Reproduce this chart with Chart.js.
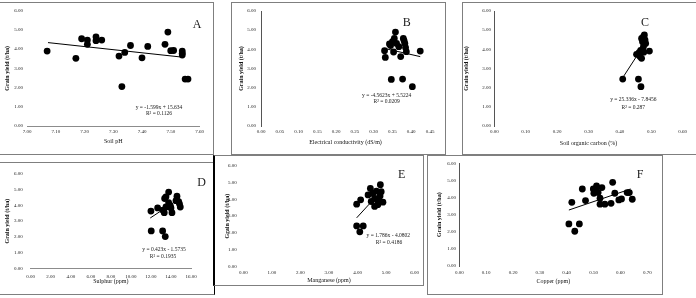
<!DOCTYPE html>
<html><head><meta charset="utf-8">
<script src="https://cdn.jsdelivr.net/npm/chart.js@4.4.1/dist/chart.umd.min.js"></script>
<style>
html,body{margin:0;padding:0;background:#fff;width:696px;height:298px;overflow:hidden;position:relative}
.box{position:absolute;border:1px solid #7f7f7f;box-sizing:border-box}
canvas{position:absolute}
</style></head><body>
<div class="box" style="left:-1px;top:2px;width:215px;height:153px"></div>
<div class="box" style="left:231px;top:2px;width:215px;height:153px"></div>
<div class="box" style="left:462px;top:2px;width:240px;height:153px"></div>
<div class="box" style="left:-1px;top:162px;width:216px;height:133px;border-right-color:#000"></div>
<div class="box" style="left:213px;top:155px;width:211px;height:131px;border-left:2px solid #000"></div>
<div class="box" style="left:427px;top:155px;width:236px;height:140px"></div>
<canvas id="cA"></canvas><canvas id="cB"></canvas><canvas id="cC"></canvas>
<canvas id="cD"></canvas><canvas id="cE"></canvas><canvas id="cF"></canvas>
<script>
// ---- data ----
const yTicks = [0, 1, 2, 3, 4, 5, 6];
const yTitle = "Grain yield (t/ha)";

const aPH    = [7.07,7.17,7.19,7.21,7.21,7.24,7.24,7.26,7.32,7.33,7.34,7.36,7.40,7.42,7.49,7.48,7.50,7.51,7.54,7.54,7.54,7.55,7.56];
const aYield = [3.90,3.52,4.54,4.47,4.25,4.64,4.44,4.47,3.64,2.05,3.83,4.19,3.55,4.14,4.89,4.25,3.92,3.93,3.90,3.78,3.69,2.44,2.44];
const aTrendX = [7.073, 7.542];
const aTrendY = [4.34, 3.58];
const aXTicks = [7.0, 7.1, 7.2, 7.3, 7.4, 7.5, 7.6];

const bEC    = [0.329,0.331,0.342,0.347,0.353,0.355,0.358,0.361,0.367,0.372,0.377,0.379,0.383,0.385,0.387,0.381,0.403,0.424,0.345,0.350];
const bYield = [3.93,3.58,4.28,2.43,3.86,4.57,4.90,4.31,4.14,3.62,2.45,4.57,4.31,4.09,3.88,4.45,2.05,3.91,4.20,4.40];
const bTrendX = [0.330, 0.424];
const bTrendY = [4.04, 3.62];
const bXTicks = [0, 0.05, 0.10, 0.15, 0.20, 0.25, 0.30, 0.35, 0.40, 0.45];

const cSOC   = [0.409,0.459,0.467,0.453,0.461,0.464,0.469,0.472,0.475,0.472,0.475,0.469,0.480,0.482,0.478,0.494,0.466,0.476];
const cYield = [2.45,2.45,2.05,3.74,3.83,3.62,3.53,3.97,4.14,4.40,4.66,4.57,4.49,4.31,4.75,3.91,3.95,3.85];
const cTrendX = [0.409, 0.485];
const cTrendY = [2.52, 4.44];
const cXTicks = [0, 0.1, 0.2, 0.3, 0.4, 0.5, 0.6];

const dS     = [12.00,12.67,12.03,13.17,13.43,13.33,13.50,13.37,13.50,13.77,13.77,13.93,14.10,14.00,14.60,14.77,14.85,14.93,13.20,14.50];
const dYield = [3.64,3.84,2.38,2.38,2.02,3.54,3.90,4.44,4.55,4.85,4.18,3.98,3.54,3.84,4.59,4.24,4.10,3.90,3.70,4.30];
const dTrendX = [11.93, 14.9];
const dTrendY = [3.20, 4.45];
const dXTicks = [0, 2, 4, 6, 8, 10, 12, 14, 16];

const eMn    = [3.97,4.11,3.97,4.20,4.08,4.37,4.45,4.54,4.60,4.66,4.69,4.71,4.60,4.80,4.79,4.83,4.89,4.48,4.75];
const eYield = [3.71,3.97,2.42,2.42,2.07,4.26,4.64,4.35,4.06,4.49,3.97,3.68,3.58,4.87,4.20,4.45,3.83,3.87,3.90];
const eTrendX = [3.97, 4.89];
const eTrendY = [2.90, 4.60];
const eXTicks = [0, 1, 2, 3, 4, 5, 6];

const fCu    = [0.408,0.447,0.430,0.419,0.458,0.470,0.499,0.501,0.511,0.517,0.524,0.531,0.524,0.542,0.565,0.571,0.579,0.594,0.604,0.625,0.633,0.644,0.509];
const fYield = [2.46,2.46,2.03,3.72,4.50,3.82,4.50,4.25,4.68,4.29,3.96,4.58,3.61,3.61,3.66,4.89,4.25,3.86,3.92,4.29,4.29,3.90,4.44];
const fTrendX = [0.408, 0.638];
const fTrendY = [3.27, 4.50];
const fXTicks = [0, 0.1, 0.2, 0.3, 0.4, 0.5, 0.6, 0.7];

// ---- panels (layout) ----
const panels = [
 {id:'cA', xs:aPH, ys:aYield, tx:aTrendX, ty:aTrendY, xt:aXTicks, xTitle:'Soil pH', letter:'A',
  eq:['y = -1.599x + 15.634','R\u00b2 = 0.1126'],
  canvas:{x:0,y:3,w:212,h:150}, area:{L:27,T:10.7,R:199.5,B:126},
  yTitleX:7.3, xTitleY:141, xPad:3, yPad:4, letterPos:[197,24.5], eqPos:[[159,107.3],[159,113.3]],
  xBorder:true, yBorder:false},
 {id:'cB', xs:bEC, ys:bYield, tx:bTrendX, ty:bTrendY, xt:bXTicks, xTitle:'Electrical conductivity (dS/m)', letter:'B',
  eq:['y = -4.5623x + 5.5224','R\u00b2 = 0.0209'],
  canvas:{x:232,y:3,w:212,h:150}, area:{L:261,T:11,R:430,B:126},
  yTitleX:241.7, xTitleY:142.7, xPad:3, yPad:5, letterPos:[406.7,23.3], eqPos:[[386.7,95.7],[386.7,101.7]],
  xBorder:false, yBorder:true},
 {id:'cC', xs:cSOC, ys:cYield, tx:cTrendX, ty:cTrendY, xt:cXTicks, xTitle:'Soil organic carbon (%)', letter:'C',
  eq:['y = 25.336x - 7.8456','R\u00b2 = 0.287'],
  canvas:{x:463,y:3,w:233,h:150}, area:{L:494.3,T:11,R:682.7,B:126},
  yTitleX:466, xTitleY:143, xPad:3, yPad:3.3, letterPos:[645,23], eqPos:[[633.3,100],[633.3,107.3]],
  xBorder:false, yBorder:true},
 {id:'cD', xs:dS, ys:dYield, tx:dTrendX, ty:dTrendY, xt:dXTicks, xTitle:'Sulphur (ppm)', letter:'D',
  eq:['y = 0.423x - 1.5735','R\u00b2 = 0.1935'],
  canvas:{x:0,y:163,w:213,h:130}, area:{L:30.7,T:169.3,R:191,B:268.3},
  yTitleX:7.3, xTitleY:281.7, xPad:5, yPad:8, letterPos:[201.7,183.3], eqPos:[[164,250],[163,256.7]],
  xBorder:true, yBorder:false},
 {id:'cE', xs:eMn, ys:eYield, tx:eTrendX, ty:eTrendY, xt:eXTicks, xTitle:'Manganese (ppm)', letter:'E',
  eq:['y = 1.786x - 4.0802','R\u00b2 = 0.4186'],
  canvas:{x:215,y:156,w:207,h:128}, area:{L:243.3,T:163.3,R:417.3,B:266.7},
  yTitleX:227.3, xTitleY:280.5, xPad:3, yPad:6.6, letterPos:[401.7,175], eqPos:[[388.3,236],[389,242.3]],
  xBorder:false, yBorder:false},
 {id:'cF', xs:fCu, ys:fYield, tx:fTrendX, ty:fTrendY, xt:fXTicks, xTitle:'Copper (ppm)', letter:'F',
  eq:[],
  canvas:{x:428,y:156,w:233,h:137}, area:{L:459.3,T:163.3,R:647.3,B:266},
  yTitleX:439.3, xTitleY:281.7, xPad:4, yPad:3.3, letterPos:[640,175], eqPos:[],
  xBorder:false, yBorder:true}
];

const FAM = "'Liberation Serif', 'Times New Roman', serif";

function build(P){
  const el = document.getElementById(P.id);
  const C = P.canvas, A = P.area;
  el.width = C.w; el.height = C.h;
  el.style.left = C.x + 'px'; el.style.top = C.y + 'px';
  el.style.width = C.w + 'px'; el.style.height = C.h + 'px';
  const tickFont = {family: FAM, size: 5};
  const txt = {
    id: 'txt_' + P.id,
    afterDraw(chart){
      const ctx = chart.ctx;
      ctx.save();
      ctx.fillStyle = '#1a1a1a';
      ctx.textAlign = 'center';
      ctx.textBaseline = 'middle';
      ctx.font = '12px ' + FAM;
      ctx.fillText(P.letter, P.letterPos[0] - C.x, P.letterPos[1] - C.y);
      ctx.font = '5.5px ' + FAM;
      P.eq.forEach((t, i) => ctx.fillText(t, P.eqPos[i][0] - C.x, P.eqPos[i][1] - C.y));
      ctx.restore();
    }
  };
  new Chart(el, {
    type: 'scatter',
    data: {datasets: [
      {data: P.tx.map((x, i) => ({x: x, y: P.ty[i]})), showLine: true, borderColor: '#000', borderWidth: 1,
       pointRadius: 0, pointHoverRadius: 0, fill: false, order: 0},
      {data: P.xs.map((x, i) => ({x: x, y: P.ys[i]})), backgroundColor: '#000', borderColor: '#000', borderWidth: 0,
       pointRadius: 3.4, pointHoverRadius: 3.4, order: 1}
    ]},
    options: {
      responsive: false, animation: false, devicePixelRatio: 1,
      events: [],
      plugins: {legend: {display: false}, tooltip: {enabled: false}},
      layout: {padding: {left: 0, top: A.T - C.y, right: C.x + C.w - A.R, bottom: 0}},
      scales: {
        x: {type: 'linear', min: P.xt[0], max: P.xt[P.xt.length - 1],
          afterBuildTicks: s => { s.ticks = P.xt.map(v => ({value: v})); },
          afterFit: s => { s.height = C.y + C.h - A.B; },
          grid: {display: false, drawTicks: false},
          border: {display: P.xBorder, color: '#8c8c8c', width: 1},
          ticks: {font: tickFont, color: '#222', padding: P.xPad, maxRotation: 0, minRotation: 0, autoSkip: false,
                  callback: v => Number(v).toFixed(2)},
          title: {display: true, text: P.xTitle, color: '#111', font: {family: FAM, size: 6},
                  padding: {top: 0, bottom: Math.max(0, C.h - 3.6 - (P.xTitleY - C.y))}}
        },
        y: {type: 'linear', min: 0, max: 6,
          afterBuildTicks: s => { s.ticks = yTicks.map(v => ({value: v})); },
          afterFit: s => { s.width = A.L - C.x; },
          grid: {display: false, drawTicks: false},
          border: {display: P.yBorder, color: '#555', width: 1},
          ticks: {font: tickFont, color: '#222', padding: P.yPad, autoSkip: false,
                  callback: v => Number(v).toFixed(2)},
          title: {display: true, text: yTitle, color: '#111', font: {family: FAM, size: 6, weight: 'bold'},
                  padding: {top: Math.max(0, P.yTitleX - C.x - 3.6), bottom: 0}}
        }
      }
    },
    plugins: [txt]
  });
}
panels.forEach(build);
</script>
</body></html>
